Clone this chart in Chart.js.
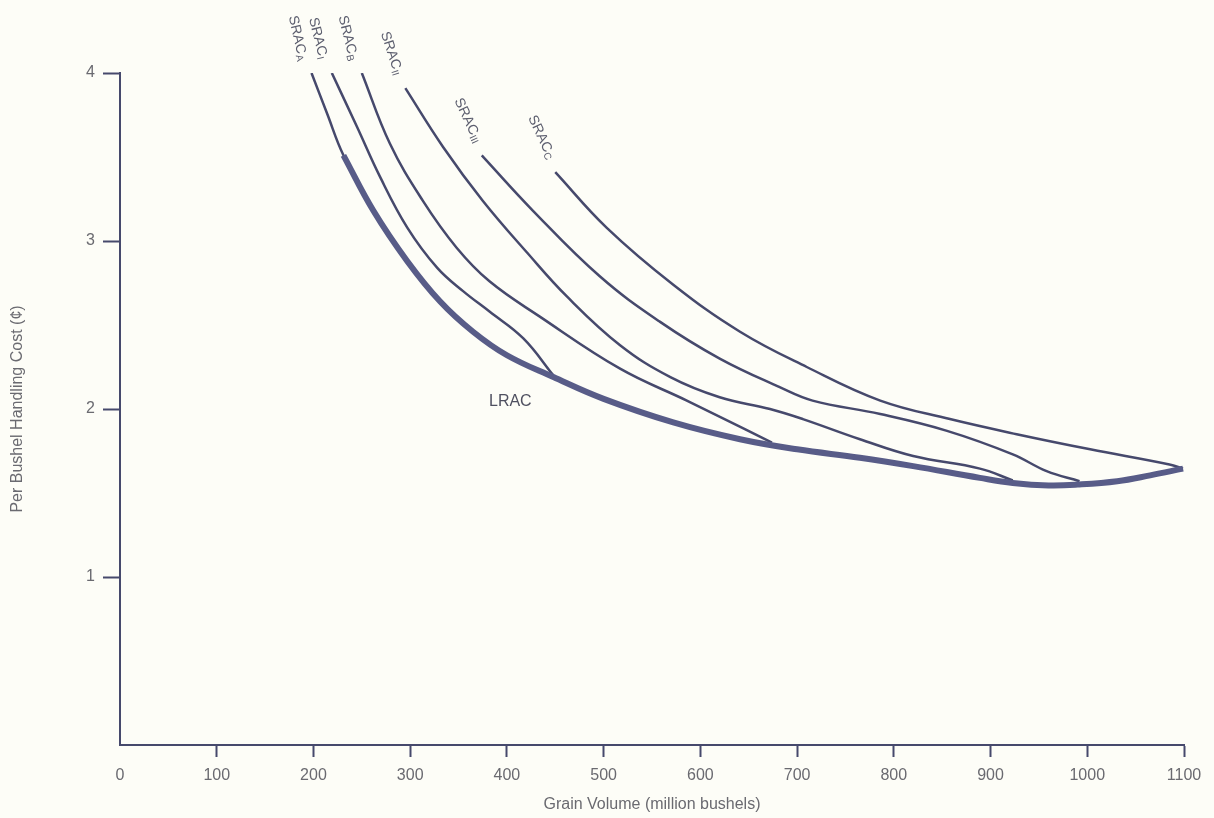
<!DOCTYPE html>
<html>
<head>
<meta charset="utf-8">
<title>Grain handling cost curves</title>
<script src="https://cdn.jsdelivr.net/npm/chart.js@4.4.0/dist/chart.umd.min.js"></script>
<style>
  html, body { margin: 0; padding: 0; background: #fdfdf7; }
</style>
</head>
<body>
<canvas id="costChart" width="1214" height="818"></canvas>
<script>
// values
// x = grain volume (million bushels), y = per bushel handling cost (cents)
const xTicks = [0, 100, 200, 300, 400, 500, 600, 700, 800, 900, 1000, 1100];
const yTicks = [1, 2, 3, 4];

const lracX = [231, 262, 297, 331, 365, 400, 448, 500, 572, 641, 700, 765, 820, 889, 923, 960, 990, 1031, 1065, 1099];
const lracY = [3.51, 3.18, 2.88, 2.64, 2.46, 2.32, 2.19, 2.06, 1.92, 1.82, 1.76, 1.71, 1.66, 1.59, 1.56, 1.545, 1.55, 1.57, 1.605, 1.645];

const sracAX = [198, 214, 231, 262];
const sracAY = [4.00, 3.76, 3.51, 3.18];

const sracIX = [219, 245, 269, 297, 328, 355, 382, 417, 448];
const sracIY = [4.00, 3.68, 3.38, 3.08, 2.84, 2.70, 2.58, 2.42, 2.20];

const sracBX = [250, 279, 313, 348, 382, 434, 517, 586, 646, 674];
const sracBY = [4.00, 3.58, 3.24, 2.96, 2.76, 2.55, 2.24, 2.05, 1.88, 1.80];

const sracIIX = [295, 334, 375, 421, 462, 517, 569, 620, 672, 706, 765, 820, 889, 923];
const sracIIY = [3.91, 3.56, 3.24, 2.93, 2.67, 2.38, 2.19, 2.07, 2.00, 1.94, 1.82, 1.72, 1.645, 1.575];

const sracIIIX = [374, 427, 496, 558, 620, 682, 716, 786, 855, 923, 958, 992];
const sracIIIY = [3.51, 3.18, 2.79, 2.52, 2.30, 2.13, 2.05, 1.97, 1.87, 1.73, 1.63, 1.57];

const sracCX = [450, 503, 572, 641, 710, 786, 858, 927, 1003, 1085, 1099];
const sracCY = [3.41, 3.08, 2.74, 2.46, 2.25, 2.05, 1.94, 1.85, 1.76, 1.67, 1.645];

const curveSubs = ['A', 'I', 'B', 'II', 'III', 'C'];

function pts(xs, ys) {
  return xs.map((v, i) => ({ x: v, y: ys[i] }));
}

const lineColor = '#46496c';
const textColor = '#6a6a70';
const fontFamily = '"Liberation Sans", Arial, Helvetica, sans-serif';

// rotated SRAC labels sit just above the start of each short-run curve
const labelAngles = [77, 76, 76, 72, 65, 65];

const curveLabels = {
  id: 'curveLabels',
  afterDatasetsDraw(chart) {
    const ctx = chart.ctx;
    const xs = chart.scales.x;
    const ys = chart.scales.y;
    ctx.save();
    ctx.fillStyle = '#5c5e6e';
    ctx.textBaseline = 'middle';

    for (let i = 0; i < curveSubs.length; i++) {
      const first = chart.data.datasets[i + 1].data[0];
      const cx = xs.getPixelForValue(first.x) - 14;
      const cy = ys.getPixelForValue(first.y) - 35;
      ctx.save();
      ctx.translate(cx, cy);
      ctx.rotate(labelAngles[i] * Math.PI / 180);
      ctx.font = '14px ' + fontFamily;
      const w1 = ctx.measureText('SRAC').width;
      ctx.font = '10px ' + fontFamily;
      const w2 = ctx.measureText(curveSubs[i]).width;
      const left = -(w1 + w2) / 2;
      ctx.font = '14px ' + fontFamily;
      ctx.textAlign = 'left';
      ctx.fillText('SRAC', left, 0);
      ctx.font = '10px ' + fontFamily;
      ctx.fillText(curveSubs[i], left + w1 + 0.5, 3);
      ctx.restore();
    }

    // LRAC label below the envelope
    const p = chart.data.datasets[0].data[6];
    ctx.font = '16px ' + fontFamily;
    ctx.textAlign = 'center';
    ctx.fillStyle = '#4f5060';
    ctx.fillText('LRAC', xs.getPixelForValue(p.x) - 43, ys.getPixelForValue(p.y) + 25);
    ctx.restore();
  }
};

const paperBg = {
  id: 'paperBg',
  beforeDraw(chart) {
    const ctx = chart.ctx;
    ctx.save();
    ctx.fillStyle = '#fdfdf7';
    ctx.fillRect(0, 0, chart.width, chart.height);
    ctx.restore();
  }
};

function thinLine(data) {
  return {
    data: data,
    borderColor: lineColor,
    borderWidth: 2.5,
    pointRadius: 0,
    showLine: true,
    fill: false,
    tension: 0.4,
    borderCapStyle: 'butt'
  };
}

const chart = new Chart(document.getElementById('costChart'), {
  type: 'scatter',
  data: {
    datasets: [
      {
        data: pts(lracX, lracY),
        borderColor: '#585c88',
        borderWidth: 6,
        pointRadius: 0,
        showLine: true,
        fill: false,
        tension: 0.4,
        borderCapStyle: 'butt'
      },
      thinLine(pts(sracAX, sracAY)),
      thinLine(pts(sracIX, sracIY)),
      thinLine(pts(sracBX, sracBY)),
      thinLine(pts(sracIIX, sracIIY)),
      thinLine(pts(sracIIIX, sracIIIY)),
      thinLine(pts(sracCX, sracCY))
    ]
  },
  options: {
    responsive: false,
    animation: false,
    layout: { padding: { top: 73, right: 30, left: 0, bottom: 0 } },
    plugins: {
      legend: { display: false },
      tooltip: { enabled: false }
    },
    scales: {
      x: {
        type: 'linear',
        min: 0,
        max: 1100,
        afterFit(scale) { scale.height = 73; },
        afterBuildTicks(scale) { scale.ticks = xTicks.map(v => ({ value: v })); },
        border: { display: true, color: lineColor, width: 2 },
        grid: {
          drawOnChartArea: false,
          drawTicks: true,
          tickLength: 12,
          tickWidth: 2,
          tickColor: (c) => (c.tick && c.tick.value === 0 ? 'rgba(0,0,0,0)' : lineColor)
        },
        ticks: {
          color: textColor,
          padding: 9,
          maxRotation: 0,
          callback: (v) => String(v),
          font: { family: fontFamily, size: 16 }
        },
        title: {
          display: true,
          text: 'Grain Volume (million bushels)',
          color: textColor,
          padding: { top: 2, bottom: 4 },
          font: { family: fontFamily, size: 16 }
        }
      },
      y: {
        type: 'linear',
        min: 0,
        max: 4,
        afterFit(scale) { scale.width = 120; },
        afterBuildTicks(scale) { scale.ticks = yTicks.map(v => ({ value: v })); },
        border: { display: true, color: lineColor, width: 2 },
        grid: {
          drawOnChartArea: false,
          drawTicks: true,
          tickLength: 17,
          tickWidth: 2,
          tickColor: lineColor
        },
        ticks: {
          color: textColor,
          padding: 8,
          callback: (v) => String(v),
          font: { family: fontFamily, size: 16 }
        },
        title: {
          display: true,
          text: 'Per Bushel Handling Cost (¢)',
          color: textColor,
          padding: { top: 8, bottom: 4 },
          font: { family: fontFamily, size: 16 }
        }
      }
    }
  },
  plugins: [paperBg, curveLabels]
});
</script>
</body>
</html>
